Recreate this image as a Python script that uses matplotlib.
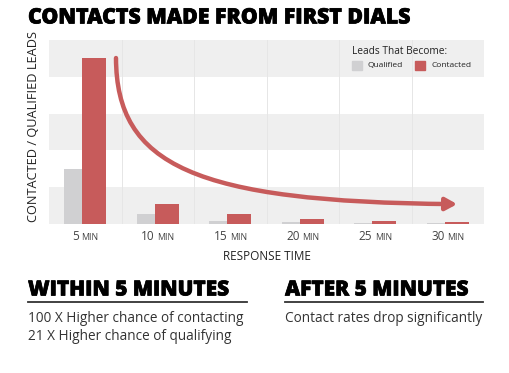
import matplotlib
matplotlib.use("Agg")
import matplotlib.pyplot as plt
import matplotlib.patheffects as pe
from matplotlib.path import Path
from matplotlib.patches import FancyArrowPatch, Rectangle
from matplotlib.offsetbox import TextArea, HPacker, AnnotationBbox

plt.rcParams['font.family'] = ['Open Sans', 'DejaVu Sans']

categories = ["5", "10", "15", "20", "25", "30"]
qualified = [1.49, 0.27, 0.08, 0.05, 0.03, 0.03]
contacted = [4.51, 0.54, 0.27, 0.14, 0.08, 0.05]

title = "CONTACTS MADE FROM FIRST DIALS"
ylabel = "CONTACTED / QUALIFIED LEADS"
xlabel = "RESPONSE TIME"
legend_title = "Leads That Become:"
series_names = ["Qualified", "Contacted"]
left_head = "WITHIN 5 MINUTES"
left_lines = ["100 X Higher chance of contacting", "21 X Higher chance of qualifying"]
right_head = "AFTER 5 MINUTES"
right_lines = ["Contact rates drop significantly"]

GRAY = "#d0d0d2"
RED = "#c75b5b"
BAND = "#efefef"

fig = plt.figure(figsize=(5.09, 3.73), dpi=100)
ax = fig.add_axes([49/509, 1-224/373, 435/509, 184/373])

n = len(categories)
ax.set_xlim(-0.5, n - 0.5)
ax.set_ylim(0, 5)
for k in (0, 2, 4):
    ax.axhspan(k, k + 1, color=BAND, zorder=0, lw=0)
for k in range(1, n):
    ax.axvline(k - 0.5, color="#e6e6e6", lw=0.7, zorder=0.5)

w = 0.33
off = 0.124
xs = list(range(n))
ax.bar([x - off for x in xs], qualified, width=w, color=GRAY, zorder=2)
ax.bar([x + off for x in xs], contacted, width=w, color=RED, zorder=3)

for s in ax.spines.values():
    s.set_visible(False)
ax.set_xticks([])
ax.set_yticks([])

# category labels with small caps "MIN"
for i, c in enumerate(categories):
    t1 = TextArea(c, textprops=dict(size=8.5, color="#444444"))
    t2 = TextArea("MIN", textprops=dict(size=6.3, color="#444444"))
    box = HPacker(children=[t1, t2], align="baseline", pad=0, sep=2)
    ab = AnnotationBbox(box, (i, 0), xycoords=ax.get_xaxis_transform(),
                        xybox=(0, -9), boxcoords="offset points",
                        frameon=False, box_alignment=(0.5, 0.5))
    ax.add_artist(ab)

fig.text(267/509, 1-256/373, xlabel, ha="center", va="center", size=8.5, color="#222222")
fig.text(33.5/509, 1-126/373, ylabel, ha="center", va="center", rotation=90, size=9.2, color="#222222")

# curved arrow
verts = [(0.424, 4.51), (0.43, 1.6), (1.5, 0.6), (5.13, 0.54)]
path = Path(verts, [Path.MOVETO, Path.CURVE4, Path.CURVE4, Path.CURVE4])
arrow = FancyArrowPatch(path=path, arrowstyle="-|>,head_length=4.2,head_width=2.3",
                        color=RED, lw=3.2, zorder=4, mutation_scale=1.6)
ax.add_patch(arrow)

# legend
ax.text(0.697, 0.935, legend_title, transform=ax.transAxes, size=7.3,
        ha="left", va="center", color="#222222")
ax.add_patch(Rectangle(((352-49)/435, 0.835), 10/435, 9/184,
                       transform=ax.transAxes, color=GRAY, zorder=5))
ax.text((368-49)/435, 0.86, series_names[0], transform=ax.transAxes, size=6,
        ha="left", va="center", color="#222222")
ax.add_patch(Rectangle(((415-49)/435, 0.835), 10/435, 9/184,
                       transform=ax.transAxes, color=RED, zorder=5))
ax.text((432-49)/435, 0.86, series_names[1], transform=ax.transAxes, size=6,
        ha="left", va="center", color="#222222")

heavy = [pe.withStroke(linewidth=0.5, foreground="black")]

# title
fig.text(28/509, 1-18/373, title, ha="left", va="center", size=15.3,
         fontweight=800, color="#000000", path_effects=heavy)

# bottom panels
fig.text(28/509, 1-290/373, left_head, ha="left", va="center", size=15.0,
         fontweight=800, color="#000000", path_effects=heavy)
fig.add_artist(plt.Line2D([28/509, 247/509], [1-302/373, 1-302/373],
                          color="#333333", lw=1.3))
for j, line in enumerate(left_lines):
    fig.text(28/509, 1-(318+19*j)/373, line, ha="left", va="center",
             size=9.85, color="#333333")

fig.text(285/509, 1-290/373, right_head, ha="left", va="center", size=15.0,
         fontweight=800, color="#000000", path_effects=heavy)
fig.add_artist(plt.Line2D([285/509, 483/509], [1-302/373, 1-302/373],
                          color="#333333", lw=1.3))
for j, line in enumerate(right_lines):
    fig.text(285/509, 1-(318+19*j)/373, line, ha="left", va="center",
             size=9.85, color="#333333")

fig.savefig("out.png", dpi=100)
